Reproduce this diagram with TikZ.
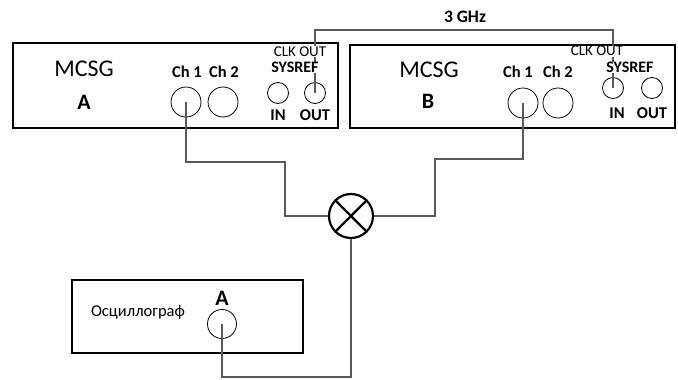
\documentclass[tikz,border=0pt]{standalone}
\usepackage{fontspec}
\setmainfont{Carlito}
\usetikzlibrary{calc,positioning,shapes}

\begin{document}
\begin{tikzpicture}[x=1pt,y=-1pt,
	box/.style={draw=black, line width=2.6pt},
	port/.style={circle, draw=black, line width=0.8pt, inner sep=0pt},
	wire/.style={draw=black!65, line width=1.1pt},
	lbl/.style={font=\fontsize{16.5}{16.5}\selectfont\bfseries, inner sep=1pt},
	clk/.style={font=\fontsize{15}{15}\selectfont, anchor=base, inner sep=0.5pt,
		text height=10pt, text depth=0pt, fill=white}]
\useasboundingbox (0,0) rectangle (678,380);

% generators
\draw[box] (13,43) rectangle (338,128);
\draw[box] (350,45) rectangle (675,128);
\draw[box] (72,280) rectangle (303,353);

\node[font=\fontsize{24}{24}\selectfont] (nameA) at (84,69) {MCSG};
\node[font=\fontsize{22}{22}\selectfont\bfseries] (letA) at (84,102) {A};
\node[font=\fontsize{24}{24}\selectfont] (nameB) at (429,70) {MCSG};
\node[font=\fontsize{22}{22}\selectfont\bfseries] (letB) at (428,101) {B};

% ports
\node[port, minimum size=30] (a1) at (186,102) {};
\node[port, minimum size=30] (a2) at (223,102) {};
\node[port, minimum size=21] (ain) at (278,93) {};
\node[port, minimum size=21] (aout) at (315,93) {};
\node[port, minimum size=30] (b1) at (523,103) {};
\node[port, minimum size=30] (b2) at (558,103) {};
\node[port, minimum size=21] (bin) at (613,88) {};
\node[port, minimum size=21] (bout) at (652,88) {};

\node[lbl] at (187,72) {Ch 1};
\node[lbl] at (224,72) {Ch 2};
\node[lbl] at (518,72) {Ch 1};
\node[lbl] at (558,72) {Ch 2};
\node[lbl] at (278,115) {IN};
\node[lbl] at (315,115) {OUT};
\node[lbl] at (617,113) {IN};
\node[lbl] at (652,113) {OUT};

% clock
\coordinate (ca) at (315,30);
\coordinate (cb) at (613,30);
\draw[wire] (aout.center) -- (ca) -- (cb) -- (bin.center);
\node[font=\fontsize{17.5}{17.5}\selectfont\bfseries] at (465,17) {3 GHz};
\node[clk] at (300,56.5) {CLK OUT};
\node[clk, font=\fontsize{16}{16}\selectfont\bfseries] at (295,72.5) {SYSREF};
\node[clk] at (597,56) {CLK OUT};
\node[clk, font=\fontsize{16}{16}\selectfont\bfseries] at (630,72.5) {SYSREF};

% mixer
\node[circle, draw=black, line width=2.2pt, minimum size=44, inner sep=0pt] (mix) at (351,216) {};
\draw[line width=2.2pt] (mix.north west) -- (mix.south east);
\draw[line width=2.2pt] (mix.north east) -- (mix.south west);

\coordinate (la) at (285,162);
\coordinate (rb) at (435,159);
\draw[wire] (a1.center) |- (la) |- (mix.west);
\draw[wire] (b1.center) |- (rb) |- (mix.east);

% scope
\node[font=\fontsize{16.5}{16.5}\selectfont] (osc) at (138,312) {Осциллограф};
\node[font=\fontsize{22}{22}\selectfont\bfseries] (letS) at (222,298) {A};
\node[port, minimum size=29] (s1) at (222,324) {};
\coordinate (sb) at (222,377);
\draw[wire] (s1.center) -- (sb) -| (mix.south);

\end{tikzpicture}
\end{document}
